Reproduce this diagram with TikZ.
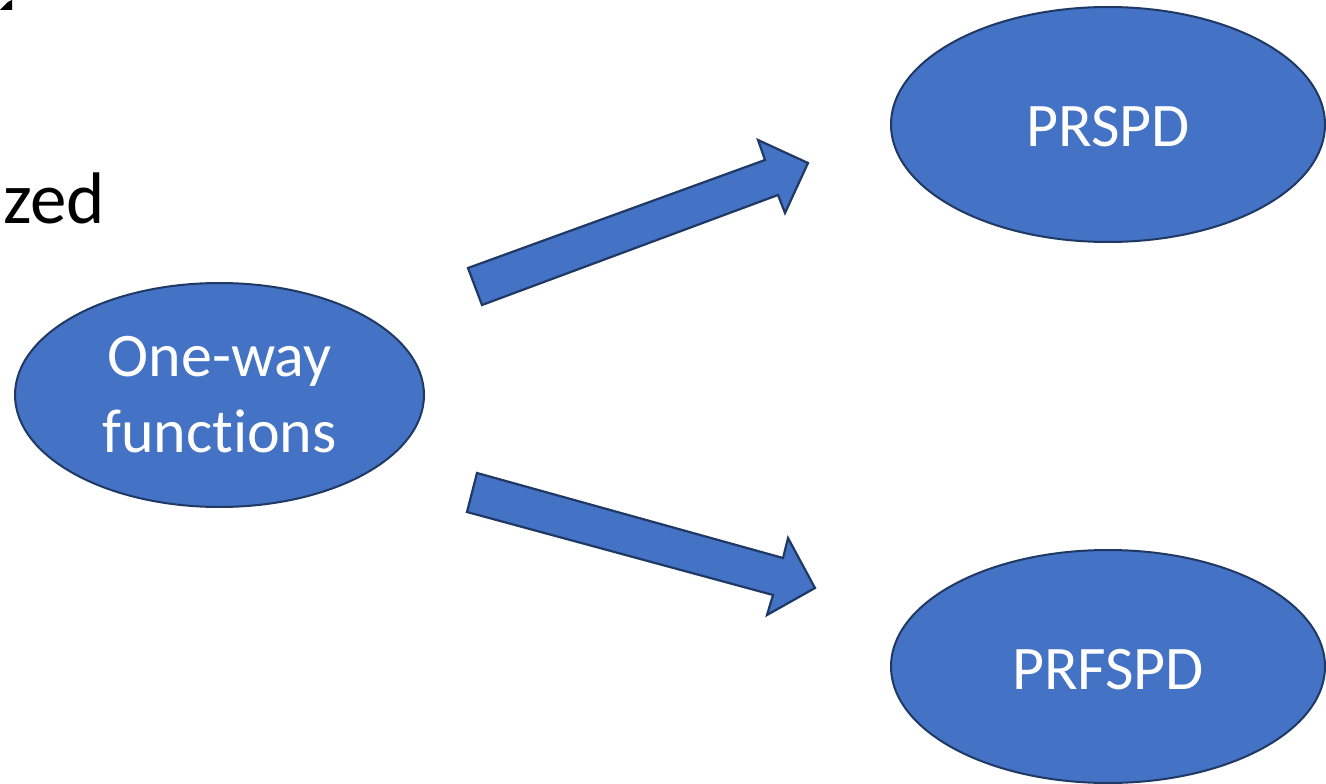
\documentclass[tikz,border=0pt]{standalone}
\usepackage{fontspec}
\setmainfont{Carlito}[RawFeature={-liga;-clig;-dlig;-rlig;-calt}]
\usetikzlibrary{shapes.geometric}

\definecolor{blobfill}{HTML}{4472C4}
\definecolor{blobedge}{HTML}{1F3864}

\tikzset{
  blob/.style={ellipse, draw=blobedge, fill=blobfill, line width=2pt,
    inner sep=0pt, text=white, align=center,
    font=\fontsize{62}{76}\selectfont},
  blobtext/.style={text=white, inner sep=0pt,
    font=\fontsize{62}{76}\selectfont},
  blockarrow/.style={draw=blobedge, fill=blobfill, line width=2.2pt,
    line join=miter},
}

\begin{document}
\begin{tikzpicture}[x=1pt, y=-1pt]
  \useasboundingbox (0,0) rectangle (1326,784);

  % fragments of the slide title
  \fill[black] (0,10) -- (8,2) -- (12,0) -- (12,10) -- cycle;
  \node[anchor=base west, inner sep=0pt, font=\fontsize{73}{88}\selectfont]
    (title) at (3,223) {zed};

  % ellipses
  \node[blob, minimum width=409pt, minimum height=224pt] (owf) at (219.5,395)
    {One-way\\func\kern0pt tions};
  \node[blob, minimum width=434pt, minimum height=235pt] (prspd) at (1108,124.5) {};
  \node[blobtext] (prspdlbl) at (1108,127) {PRSPD};
  \node[blob, minimum width=434pt, minimum height=233pt] (prfspd) at (1108,666.5) {};
  \node[blobtext] (prfspdlbl) at (1108,669.5) {PRFSPD};

  % block arrows
  \draw[blockarrow] (468,268) -- (765,160) -- (758,140) -- (808,163)
    -- (785,213) -- (778,195) -- (482,305) -- cycle;
  \draw[blockarrow] (477,473) -- (783,558) -- (788,538) -- (815,588)
    -- (767,615) -- (773,595) -- (467,512) -- cycle;
\end{tikzpicture}
\end{document}
